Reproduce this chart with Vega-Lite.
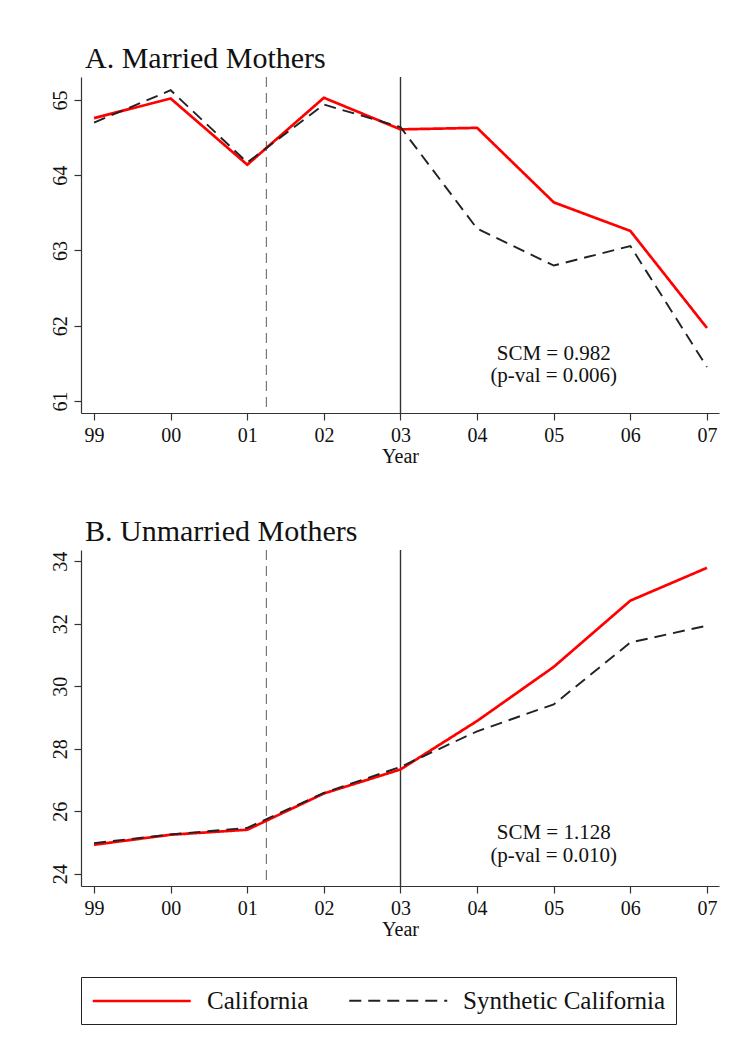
{
  "$schema": "https://vega.github.io/schema/vega-lite/v6.json",
  "background": "white",
  "padding": {"left": 50, "top": 44, "right": 10, "bottom": 10},
  "config": {
    "font": "Liberation Serif",
    "view": {"stroke": null},
    "axis": {
      "domainColor": "#333", "tickColor": "#333", "domainWidth": 1.2, "tickWidth": 1.2,
      "grid": false, "tickSize": 7,
      "labelFont": "Liberation Serif", "labelFontSize": 20, "labelColor": "#111",
      "titleFont": "Liberation Serif", "titleFontSize": 20, "titleFontWeight": "normal", "titleColor": "#111"
    },
    "axisX": {"labelPadding": 5, "titlePadding": 1},
    "axisY": {"labelAngle": -90, "labelAlign": "center", "labelBaseline": "bottom", "labelPadding": 4, "format": "d"},
    "title": {"font": "Liberation Serif", "fontSize": 30, "fontWeight": "normal", "anchor": "start", "frame": "group", "dx": 4, "color": "#111", "offset": 2},
    "legend": {
      "title": null, "orient": "bottom", "direction": "horizontal",
      "strokeColor": "#222", "padding": 10, "offset": 38,
      "symbolType": "M-1,0H7", "symbolSize": 600,
      "labelFont": "Liberation Serif", "labelFontSize": 25, "labelColor": "#111", "labelLimit": 400,
      "labelOffset": 88, "columnPadding": 36
    }
  },
  "datasets": {
    "married": [
      {"year": 1999, "series": "California", "value": 64.76},
      {"year": 2000, "series": "California", "value": 65.02},
      {"year": 2001, "series": "California", "value": 64.14},
      {"year": 2002, "series": "California", "value": 65.03},
      {"year": 2003, "series": "California", "value": 64.61},
      {"year": 2004, "series": "California", "value": 64.63},
      {"year": 2005, "series": "California", "value": 63.64},
      {"year": 2006, "series": "California", "value": 63.26},
      {"year": 2007, "series": "California", "value": 61.97},
      {"year": 1999, "series": "Synthetic California", "value": 64.70},
      {"year": 2000, "series": "Synthetic California", "value": 65.13},
      {"year": 2001, "series": "Synthetic California", "value": 64.17},
      {"year": 2002, "series": "Synthetic California", "value": 64.94},
      {"year": 2003, "series": "Synthetic California", "value": 64.64},
      {"year": 2004, "series": "Synthetic California", "value": 63.29},
      {"year": 2005, "series": "Synthetic California", "value": 62.80},
      {"year": 2006, "series": "Synthetic California", "value": 63.06},
      {"year": 2007, "series": "Synthetic California", "value": 61.45}
    ],
    "unmarried": [
      {"year": 1999, "series": "California", "value": 24.93},
      {"year": 2000, "series": "California", "value": 25.25},
      {"year": 2001, "series": "California", "value": 25.41},
      {"year": 2002, "series": "California", "value": 26.57},
      {"year": 2003, "series": "California", "value": 27.34},
      {"year": 2004, "series": "California", "value": 28.89},
      {"year": 2005, "series": "California", "value": 30.62},
      {"year": 2006, "series": "California", "value": 32.74},
      {"year": 2007, "series": "California", "value": 33.79},
      {"year": 1999, "series": "Synthetic California", "value": 24.98},
      {"year": 2000, "series": "Synthetic California", "value": 25.26},
      {"year": 2001, "series": "Synthetic California", "value": 25.47},
      {"year": 2002, "series": "Synthetic California", "value": 26.59},
      {"year": 2003, "series": "Synthetic California", "value": 27.42},
      {"year": 2004, "series": "Synthetic California", "value": 28.56},
      {"year": 2005, "series": "Synthetic California", "value": 29.42},
      {"year": 2006, "series": "Synthetic California", "value": 31.40},
      {"year": 2007, "series": "Synthetic California", "value": 31.94}
    ],
    "notesA": [
      {"year": 2005, "value": 61.62, "label": "SCM = 0.982"},
      {"year": 2005, "value": 61.33, "label": "(p-val = 0.006)"}
    ],
    "notesB": [
      {"year": 2005, "value": 25.30, "label": "SCM = 1.128"},
      {"year": 2005, "value": 24.58, "label": "(p-val = 0.010)"}
    ],
    "events": [
      {"when": 2001.25, "kind": "dashed"},
      {"when": 2003, "kind": "solid"}
    ]
  },
  "spacing": 51,
  "resolve": {
    "scale": {"color": "shared", "strokeDash": "shared", "strokeWidth": "shared"},
    "legend": {"color": "shared", "strokeDash": "shared", "strokeWidth": "shared"}
  },
  "vconcat": [
    {
      "title": {"text": "A. Married Mothers"},
      "width": 638, "height": 336,
      "layer": [
        {
          "data": {"name": "events"},
          "transform": [{"filter": "datum.kind === 'dashed'"}],
          "mark": {"type": "rule", "color": "#777", "strokeDash": [10, 6], "strokeWidth": 1.2},
          "encoding": {"x": {"field": "when", "type": "quantitative", "scale": {"domain": [1998.83, 2007.157], "nice": false, "zero": false}}}
        },
        {
          "data": {"name": "events"},
          "transform": [{"filter": "datum.kind === 'solid'"}],
          "mark": {"type": "rule", "color": "#333", "strokeWidth": 1.4},
          "encoding": {"x": {"field": "when", "type": "quantitative"}}
        },
        {
          "data": {"name": "married"},
          "mark": {"type": "line"},
          "encoding": {
            "x": {"field": "year", "type": "quantitative", "title": "Year",
                  "scale": {"domain": [1998.83, 2007.157], "nice": false, "zero": false},
                  "axis": {"values": [1999, 2000, 2001, 2002, 2003, 2004, 2005, 2006, 2007], "labelExpr": "slice(toString(datum.value), 2)"}},
            "y": {"field": "value", "type": "quantitative", "title": null,
                  "scale": {"domain": [60.84, 65.306], "nice": false, "zero": false},
                  "axis": {"values": [61, 62, 63, 64, 65]}},
            "color": {"field": "series", "type": "nominal", "scale": {"domain": ["California", "Synthetic California"], "range": ["#ff0000", "#222222"]}},
            "strokeDash": {"field": "series", "type": "nominal", "scale": {"domain": ["California", "Synthetic California"], "range": [[1, 0], [12, 7]]}},
            "strokeWidth": {"field": "series", "type": "nominal", "scale": {"domain": ["California", "Synthetic California"], "range": [2.7, 1.9]}}
          }
        },
        {
          "data": {"name": "notesA"},
          "mark": {"type": "text", "font": "Liberation Serif", "fontSize": 21, "color": "#111"},
          "encoding": {
            "x": {"field": "year", "type": "quantitative"},
            "y": {"field": "value", "type": "quantitative"},
            "text": {"field": "label"}
          }
        }
      ]
    },
    {
      "title": {"text": "B. Unmarried Mothers"},
      "width": 638, "height": 336,
      "layer": [
        {
          "data": {"name": "events"},
          "transform": [{"filter": "datum.kind === 'dashed'"}],
          "mark": {"type": "rule", "color": "#777", "strokeDash": [10, 6], "strokeWidth": 1.2},
          "encoding": {"x": {"field": "when", "type": "quantitative", "scale": {"domain": [1998.83, 2007.157], "nice": false, "zero": false}}}
        },
        {
          "data": {"name": "events"},
          "transform": [{"filter": "datum.kind === 'solid'"}],
          "mark": {"type": "rule", "color": "#333", "strokeWidth": 1.4},
          "encoding": {"x": {"field": "when", "type": "quantitative"}}
        },
        {
          "data": {"name": "unmarried"},
          "mark": {"type": "line"},
          "encoding": {
            "x": {"field": "year", "type": "quantitative", "title": "Year",
                  "scale": {"domain": [1998.83, 2007.157], "nice": false, "zero": false},
                  "axis": {"values": [1999, 2000, 2001, 2002, 2003, 2004, 2005, 2006, 2007], "labelExpr": "slice(toString(datum.value), 2)"}},
            "y": {"field": "value", "type": "quantitative", "title": null,
                  "scale": {"domain": [23.61, 34.36], "nice": false, "zero": false},
                  "axis": {"values": [24, 26, 28, 30, 32, 34]}},
            "color": {"field": "series", "type": "nominal", "scale": {"domain": ["California", "Synthetic California"], "range": ["#ff0000", "#222222"]}},
            "strokeDash": {"field": "series", "type": "nominal", "scale": {"domain": ["California", "Synthetic California"], "range": [[1, 0], [12, 7]]}},
            "strokeWidth": {"field": "series", "type": "nominal", "scale": {"domain": ["California", "Synthetic California"], "range": [2.7, 1.9]}}
          }
        },
        {
          "data": {"name": "notesB"},
          "mark": {"type": "text", "font": "Liberation Serif", "fontSize": 21, "color": "#111"},
          "encoding": {
            "x": {"field": "year", "type": "quantitative"},
            "y": {"field": "value", "type": "quantitative"},
            "text": {"field": "label"}
          }
        }
      ]
    }
  ]
}
